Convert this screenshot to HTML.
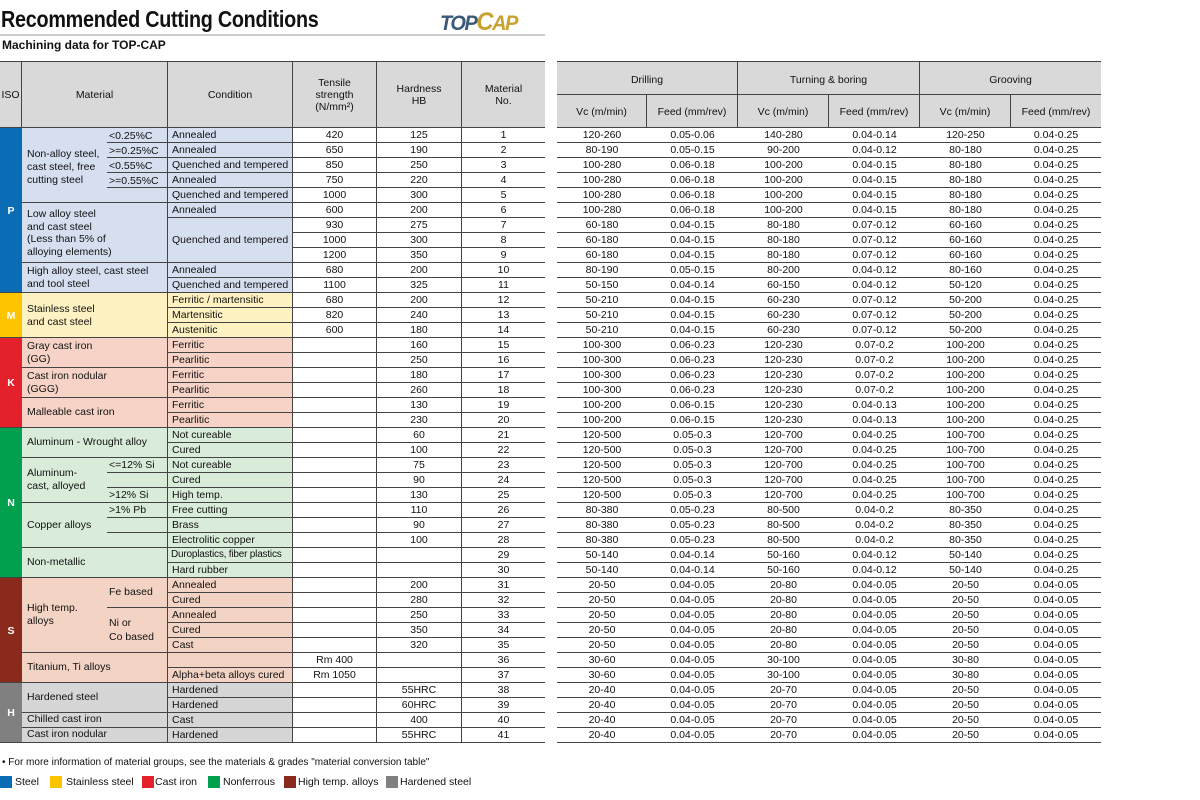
<!DOCTYPE html>
<html><head><meta charset="utf-8"><style>
*{margin:0;padding:0;box-sizing:border-box}
body{width:1200px;height:800px;background:#fff;font-family:"Liberation Sans",Arial,sans-serif;color:#111;position:relative;overflow:hidden;font-size:10.5px}
.a{position:absolute;white-space:nowrap}
table{border-collapse:separate;border-spacing:0;table-layout:fixed;position:absolute}
td{height:15px;border-bottom:1px solid #444;padding:0;line-height:14px;text-align:center;white-space:nowrap;overflow:hidden;font-size:10.5px}
#L td{border-right:1px solid #444}
#L td.c{text-align:left;padding-left:4px}
.P{background:#d5dff0}.M{background:#fff2c2}.K{background:#f6d3c6}.N{background:#d9ecd9}.S{background:#f3d4c4}.H{background:#d6d6d6}
.hd{position:absolute;background:#d9d9d9;border-top:1px solid #444;border-bottom:1px solid #444;}
.hc{position:absolute;display:flex;align-items:center;justify-content:center;text-align:center;font-size:10.5px;line-height:12px;border-right:1px solid #444}
.iso{position:absolute;left:0;width:22px;color:#fff;font-weight:bold;display:flex;align-items:center;justify-content:center;font-size:10.5px}
.mb{position:absolute;left:22px;width:146px;border-right:1px solid #444}
.ln{position:absolute;height:1px;background:#444}
.sq{position:absolute;top:776px;width:12px;height:12px}
</style></head><body>
<div class="a" style="left:1px;top:6px;font-size:23px;font-weight:bold;transform:scaleX(0.86);transform-origin:left top;letter-spacing:-0.3px">Recommended Cutting Conditions</div>
<div class="a" style="left:440px;top:8px;font-size:21px;font-weight:bold;font-style:italic;letter-spacing:-1.5px;transform:scaleX(0.95);transform-origin:left top"><span style="color:#3a5a78">TOP</span><span style="color:#c9a233;font-size:25px">C</span><span style="color:#c9a233">AP</span></div>
<div class="ln" style="left:0;top:34px;width:545px;height:2px;background:#ccc"></div>
<div class="a" style="left:2px;top:38px;font-size:12px;font-weight:bold">Machining data for TOP-CAP</div>

<div class="hd" style="left:0;top:61px;width:545px;height:67px"></div>
<div class="hc" style="left:0;top:62px;width:22px;height:66px">ISO</div>
<div class="hc" style="left:22px;top:62px;width:146px;height:66px">Material</div>
<div class="hc" style="left:168px;top:62px;width:125px;height:66px">Condition</div>
<div class="hc" style="left:293px;top:62px;width:84px;height:66px">Tensile<br>strength<br>(N/mm²)</div>
<div class="hc" style="left:377px;top:62px;width:85px;height:66px">Hardness<br>HB</div>
<div class="hc" style="left:462px;top:62px;width:83px;height:66px;border-right:0">Material<br>No.</div>

<div class="hd" style="left:557px;top:61px;width:544px;height:67px"></div>
<div class="hc" style="left:557px;top:62px;width:181px;height:33px;border-bottom:1px solid #444;padding-top:4px">Drilling</div>
<div class="hc" style="left:738px;top:62px;width:182px;height:33px;border-bottom:1px solid #444;padding-top:4px">Turning &amp; boring</div>
<div class="hc" style="left:920px;top:62px;width:181px;height:33px;border-bottom:1px solid #444;border-right:0;padding-top:4px">Grooving</div>
<div class="hc" style="left:557px;top:95px;width:90px;height:33px">Vc (m/min)</div>
<div class="hc" style="left:647px;top:95px;width:91px;height:33px">Feed (mm/rev)</div>
<div class="hc" style="left:738px;top:95px;width:91px;height:33px">Vc (m/min)</div>
<div class="hc" style="left:829px;top:95px;width:91px;height:33px">Feed (mm/rev)</div>
<div class="hc" style="left:920px;top:95px;width:91px;height:33px">Vc (m/min)</div>
<div class="hc" style="left:1011px;top:95px;width:90px;height:33px;border-right:0">Feed (mm/rev)</div>

<div class="iso" style="top:128px;height:165px;background:#0a6cb4">P</div>
<div class="iso" style="top:293px;height:45px;background:#ffc400">M</div>
<div class="iso" style="top:338px;height:90px;background:#e4202a">K</div>
<div class="iso" style="top:428px;height:150px;background:#00a04e">N</div>
<div class="iso" style="top:578px;height:105px;background:#8a2a1c">S</div>
<div class="iso" style="top:683px;height:60px;background:#808080">H</div>

<div class="mb P" style="top:128px;height:165px"></div>
<div class="mb M" style="top:293px;height:45px"></div>
<div class="mb K" style="top:338px;height:90px"></div>
<div class="mb N" style="top:428px;height:150px"></div>
<div class="mb S" style="top:578px;height:105px"></div>
<div class="mb H" style="top:683px;height:60px"></div>
<div class="ln" style="left:22px;top:202px;width:146px"></div>
<div class="ln" style="left:22px;top:262px;width:146px"></div>
<div class="ln" style="left:0;top:292px;width:168px"></div>
<div class="ln" style="left:0;top:337px;width:168px"></div>
<div class="ln" style="left:22px;top:367px;width:146px"></div>
<div class="ln" style="left:22px;top:397px;width:146px"></div>
<div class="ln" style="left:0;top:427px;width:168px"></div>
<div class="ln" style="left:22px;top:457px;width:146px"></div>
<div class="ln" style="left:22px;top:502px;width:146px"></div>
<div class="ln" style="left:22px;top:547px;width:146px"></div>
<div class="ln" style="left:0;top:577px;width:168px"></div>
<div class="ln" style="left:22px;top:652px;width:146px"></div>
<div class="ln" style="left:0;top:682px;width:168px"></div>
<div class="ln" style="left:22px;top:712px;width:146px"></div>
<div class="ln" style="left:22px;top:727px;width:146px"></div>
<div class="ln" style="left:0;top:742px;width:168px"></div>
<div class="ln" style="left:107px;top:142px;width:61px"></div>
<div class="ln" style="left:107px;top:157px;width:61px"></div>
<div class="ln" style="left:107px;top:172px;width:61px"></div>
<div class="ln" style="left:107px;top:187px;width:61px"></div>
<div class="ln" style="left:107px;top:472px;width:61px"></div>
<div class="ln" style="left:107px;top:487px;width:61px"></div>
<div class="ln" style="left:107px;top:517px;width:61px"></div>
<div class="ln" style="left:107px;top:532px;width:61px"></div>
<div class="ln" style="left:107px;top:607px;width:61px"></div>

<div class="a" style="left:27px;top:148px;line-height:13px">Non-alloy steel,<br>cast steel, free<br>cutting steel</div>
<div class="a" style="left:109px;top:129px;line-height:15px">&lt;0.25%C<br>&gt;=0.25%C<br>&lt;0.55%C<br>&gt;=0.55%C</div>
<div class="a" style="left:27px;top:208px;line-height:12.5px">Low alloy steel<br>and cast steel<br>(Less than 5% of<br>alloying elements)</div>
<div class="a" style="left:27px;top:265px;line-height:13px">High alloy steel, cast steel<br>and tool steel</div>
<div class="a" style="left:27px;top:303px;line-height:12.5px">Stainless steel<br>and cast steel</div>
<div class="a" style="left:27px;top:340px;line-height:13px">Gray cast iron<br>(GG)</div>
<div class="a" style="left:27px;top:370px;line-height:13px">Cast iron nodular<br>(GGG)</div>
<div class="a" style="left:27px;top:406px">Malleable cast iron</div>
<div class="a" style="left:27px;top:436px">Aluminum - Wrought alloy</div>
<div class="a" style="left:27px;top:467px;line-height:13px">Aluminum-<br>cast, alloyed</div>
<div class="a" style="left:109px;top:459px">&lt;=12% Si</div>
<div class="a" style="left:109px;top:489px">&gt;12% Si</div>
<div class="a" style="left:109px;top:504px">&gt;1% Pb</div>
<div class="a" style="left:27px;top:519px">Copper alloys</div>
<div class="a" style="left:27px;top:556px">Non-metallic</div>
<div class="a" style="left:27px;top:602px;line-height:13px">High temp.<br>alloys</div>
<div class="a" style="left:109px;top:586px">Fe based</div>
<div class="a" style="left:109px;top:616px;line-height:14px">Ni or<br>Co based</div>
<div class="a" style="left:27px;top:661px">Titanium, Ti alloys</div>
<div class="a" style="left:27px;top:691px">Hardened steel</div>
<div class="a" style="left:27px;top:713px">Chilled cast iron</div>
<div class="a" style="left:27px;top:728px">Cast iron nodular</div>

<table id="L" style="left:168px;top:128px;width:377px">
<colgroup><col style="width:125px"><col style="width:84px"><col style="width:85px"><col style="width:83px"></colgroup>
<tr><td class="c P">Annealed</td><td>420</td><td>125</td><td style="border-right:0">1</td></tr>
<tr><td class="c P">Annealed</td><td>650</td><td>190</td><td style="border-right:0">2</td></tr>
<tr><td class="c P">Quenched and tempered</td><td>850</td><td>250</td><td style="border-right:0">3</td></tr>
<tr><td class="c P">Annealed</td><td>750</td><td>220</td><td style="border-right:0">4</td></tr>
<tr><td class="c P">Quenched and tempered</td><td>1000</td><td>300</td><td style="border-right:0">5</td></tr>
<tr><td class="c P">Annealed</td><td>600</td><td>200</td><td style="border-right:0">6</td></tr>
<tr><td class="c P" rowspan="3" style="height:45px">Quenched and tempered</td><td>930</td><td>275</td><td style="border-right:0">7</td></tr>
<tr><td>1000</td><td>300</td><td style="border-right:0">8</td></tr>
<tr><td>1200</td><td>350</td><td style="border-right:0">9</td></tr>
<tr><td class="c P">Annealed</td><td>680</td><td>200</td><td style="border-right:0">10</td></tr>
<tr><td class="c P">Quenched and tempered</td><td>1100</td><td>325</td><td style="border-right:0">11</td></tr>
<tr><td class="c M">Ferritic / martensitic</td><td>680</td><td>200</td><td style="border-right:0">12</td></tr>
<tr><td class="c M">Martensitic</td><td>820</td><td>240</td><td style="border-right:0">13</td></tr>
<tr><td class="c M">Austenitic</td><td>600</td><td>180</td><td style="border-right:0">14</td></tr>
<tr><td class="c K">Ferritic</td><td></td><td>160</td><td style="border-right:0">15</td></tr>
<tr><td class="c K">Pearlitic</td><td></td><td>250</td><td style="border-right:0">16</td></tr>
<tr><td class="c K">Ferritic</td><td></td><td>180</td><td style="border-right:0">17</td></tr>
<tr><td class="c K">Pearlitic</td><td></td><td>260</td><td style="border-right:0">18</td></tr>
<tr><td class="c K">Ferritic</td><td></td><td>130</td><td style="border-right:0">19</td></tr>
<tr><td class="c K">Pearlitic</td><td></td><td>230</td><td style="border-right:0">20</td></tr>
<tr><td class="c N">Not cureable</td><td></td><td>60</td><td style="border-right:0">21</td></tr>
<tr><td class="c N">Cured</td><td></td><td>100</td><td style="border-right:0">22</td></tr>
<tr><td class="c N">Not cureable</td><td></td><td>75</td><td style="border-right:0">23</td></tr>
<tr><td class="c N">Cured</td><td></td><td>90</td><td style="border-right:0">24</td></tr>
<tr><td class="c N">High temp.</td><td></td><td>130</td><td style="border-right:0">25</td></tr>
<tr><td class="c N">Free cutting</td><td></td><td>110</td><td style="border-right:0">26</td></tr>
<tr><td class="c N">Brass</td><td></td><td>90</td><td style="border-right:0">27</td></tr>
<tr><td class="c N">Electrolitic copper</td><td></td><td>100</td><td style="border-right:0">28</td></tr>
<tr><td class="c N" style="font-size:10px;padding-left:3px;letter-spacing:-0.2px">Duroplastics, fiber plastics</td><td></td><td></td><td style="border-right:0">29</td></tr>
<tr><td class="c N">Hard rubber</td><td></td><td></td><td style="border-right:0">30</td></tr>
<tr><td class="c S">Annealed</td><td></td><td>200</td><td style="border-right:0">31</td></tr>
<tr><td class="c S">Cured</td><td></td><td>280</td><td style="border-right:0">32</td></tr>
<tr><td class="c S">Annealed</td><td></td><td>250</td><td style="border-right:0">33</td></tr>
<tr><td class="c S">Cured</td><td></td><td>350</td><td style="border-right:0">34</td></tr>
<tr><td class="c S">Cast</td><td></td><td>320</td><td style="border-right:0">35</td></tr>
<tr><td class="c S"></td><td>Rm 400</td><td></td><td style="border-right:0">36</td></tr>
<tr><td class="c S">Alpha+beta alloys cured</td><td>Rm 1050</td><td></td><td style="border-right:0">37</td></tr>
<tr><td class="c H">Hardened</td><td></td><td>55HRC</td><td style="border-right:0">38</td></tr>
<tr><td class="c H">Hardened</td><td></td><td>60HRC</td><td style="border-right:0">39</td></tr>
<tr><td class="c H">Cast</td><td></td><td>400</td><td style="border-right:0">40</td></tr>
<tr><td class="c H">Hardened</td><td></td><td>55HRC</td><td style="border-right:0">41</td></tr>
</table>

<table style="left:557px;top:128px;width:544px">
<colgroup><col style="width:90px"><col style="width:91px"><col style="width:91px"><col style="width:91px"><col style="width:91px"><col style="width:90px"></colgroup>
<tr><td>120-260</td><td>0.05-0.06</td><td>140-280</td><td>0.04-0.14</td><td>120-250</td><td>0.04-0.25</td></tr>
<tr><td>80-190</td><td>0.05-0.15</td><td>90-200</td><td>0.04-0.12</td><td>80-180</td><td>0.04-0.25</td></tr>
<tr><td>100-280</td><td>0.06-0.18</td><td>100-200</td><td>0.04-0.15</td><td>80-180</td><td>0.04-0.25</td></tr>
<tr><td>100-280</td><td>0.06-0.18</td><td>100-200</td><td>0.04-0.15</td><td>80-180</td><td>0.04-0.25</td></tr>
<tr><td>100-280</td><td>0.06-0.18</td><td>100-200</td><td>0.04-0.15</td><td>80-180</td><td>0.04-0.25</td></tr>
<tr><td>100-280</td><td>0.06-0.18</td><td>100-200</td><td>0.04-0.15</td><td>80-180</td><td>0.04-0.25</td></tr>
<tr><td>60-180</td><td>0.04-0.15</td><td>80-180</td><td>0.07-0.12</td><td>60-160</td><td>0.04-0.25</td></tr>
<tr><td>60-180</td><td>0.04-0.15</td><td>80-180</td><td>0.07-0.12</td><td>60-160</td><td>0.04-0.25</td></tr>
<tr><td>60-180</td><td>0.04-0.15</td><td>80-180</td><td>0.07-0.12</td><td>60-160</td><td>0.04-0.25</td></tr>
<tr><td>80-190</td><td>0.05-0.15</td><td>80-200</td><td>0.04-0.12</td><td>80-160</td><td>0.04-0.25</td></tr>
<tr><td>50-150</td><td>0.04-0.14</td><td>60-150</td><td>0.04-0.12</td><td>50-120</td><td>0.04-0.25</td></tr>
<tr><td>50-210</td><td>0.04-0.15</td><td>60-230</td><td>0.07-0.12</td><td>50-200</td><td>0.04-0.25</td></tr>
<tr><td>50-210</td><td>0.04-0.15</td><td>60-230</td><td>0.07-0.12</td><td>50-200</td><td>0.04-0.25</td></tr>
<tr><td>50-210</td><td>0.04-0.15</td><td>60-230</td><td>0.07-0.12</td><td>50-200</td><td>0.04-0.25</td></tr>
<tr><td>100-300</td><td>0.06-0.23</td><td>120-230</td><td>0.07-0.2</td><td>100-200</td><td>0.04-0.25</td></tr>
<tr><td>100-300</td><td>0.06-0.23</td><td>120-230</td><td>0.07-0.2</td><td>100-200</td><td>0.04-0.25</td></tr>
<tr><td>100-300</td><td>0.06-0.23</td><td>120-230</td><td>0.07-0.2</td><td>100-200</td><td>0.04-0.25</td></tr>
<tr><td>100-300</td><td>0.06-0.23</td><td>120-230</td><td>0.07-0.2</td><td>100-200</td><td>0.04-0.25</td></tr>
<tr><td>100-200</td><td>0.06-0.15</td><td>120-230</td><td>0.04-0.13</td><td>100-200</td><td>0.04-0.25</td></tr>
<tr><td>100-200</td><td>0.06-0.15</td><td>120-230</td><td>0.04-0.13</td><td>100-200</td><td>0.04-0.25</td></tr>
<tr><td>120-500</td><td>0.05-0.3</td><td>120-700</td><td>0.04-0.25</td><td>100-700</td><td>0.04-0.25</td></tr>
<tr><td>120-500</td><td>0.05-0.3</td><td>120-700</td><td>0.04-0.25</td><td>100-700</td><td>0.04-0.25</td></tr>
<tr><td>120-500</td><td>0.05-0.3</td><td>120-700</td><td>0.04-0.25</td><td>100-700</td><td>0.04-0.25</td></tr>
<tr><td>120-500</td><td>0.05-0.3</td><td>120-700</td><td>0.04-0.25</td><td>100-700</td><td>0.04-0.25</td></tr>
<tr><td>120-500</td><td>0.05-0.3</td><td>120-700</td><td>0.04-0.25</td><td>100-700</td><td>0.04-0.25</td></tr>
<tr><td>80-380</td><td>0.05-0.23</td><td>80-500</td><td>0.04-0.2</td><td>80-350</td><td>0.04-0.25</td></tr>
<tr><td>80-380</td><td>0.05-0.23</td><td>80-500</td><td>0.04-0.2</td><td>80-350</td><td>0.04-0.25</td></tr>
<tr><td>80-380</td><td>0.05-0.23</td><td>80-500</td><td>0.04-0.2</td><td>80-350</td><td>0.04-0.25</td></tr>
<tr><td>50-140</td><td>0.04-0.14</td><td>50-160</td><td>0.04-0.12</td><td>50-140</td><td>0.04-0.25</td></tr>
<tr><td>50-140</td><td>0.04-0.14</td><td>50-160</td><td>0.04-0.12</td><td>50-140</td><td>0.04-0.25</td></tr>
<tr><td>20-50</td><td>0.04-0.05</td><td>20-80</td><td>0.04-0.05</td><td>20-50</td><td>0.04-0.05</td></tr>
<tr><td>20-50</td><td>0.04-0.05</td><td>20-80</td><td>0.04-0.05</td><td>20-50</td><td>0.04-0.05</td></tr>
<tr><td>20-50</td><td>0.04-0.05</td><td>20-80</td><td>0.04-0.05</td><td>20-50</td><td>0.04-0.05</td></tr>
<tr><td>20-50</td><td>0.04-0.05</td><td>20-80</td><td>0.04-0.05</td><td>20-50</td><td>0.04-0.05</td></tr>
<tr><td>20-50</td><td>0.04-0.05</td><td>20-80</td><td>0.04-0.05</td><td>20-50</td><td>0.04-0.05</td></tr>
<tr><td>30-60</td><td>0.04-0.05</td><td>30-100</td><td>0.04-0.05</td><td>30-80</td><td>0.04-0.05</td></tr>
<tr><td>30-60</td><td>0.04-0.05</td><td>30-100</td><td>0.04-0.05</td><td>30-80</td><td>0.04-0.05</td></tr>
<tr><td>20-40</td><td>0.04-0.05</td><td>20-70</td><td>0.04-0.05</td><td>20-50</td><td>0.04-0.05</td></tr>
<tr><td>20-40</td><td>0.04-0.05</td><td>20-70</td><td>0.04-0.05</td><td>20-50</td><td>0.04-0.05</td></tr>
<tr><td>20-40</td><td>0.04-0.05</td><td>20-70</td><td>0.04-0.05</td><td>20-50</td><td>0.04-0.05</td></tr>
<tr><td>20-40</td><td>0.04-0.05</td><td>20-70</td><td>0.04-0.05</td><td>20-50</td><td>0.04-0.05</td></tr>
</table>

<div class="a" style="left:2px;top:757px;font-size:10px">• For more information of material groups, see the materials &amp; grades "material conversion table"</div>
<div class="sq" style="left:0px;background:#0a6cb4"></div><div class="a" style="left:15px;top:776px;font-size:10.5px">Steel</div>
<div class="sq" style="left:50px;background:#ffc400"></div><div class="a" style="left:66px;top:776px;font-size:10.5px">Stainless steel</div>
<div class="sq" style="left:142px;background:#e4202a"></div><div class="a" style="left:155px;top:776px;font-size:10.5px">Cast iron</div>
<div class="sq" style="left:208px;background:#00a04e"></div><div class="a" style="left:223px;top:776px;font-size:10.5px">Nonferrous</div>
<div class="sq" style="left:284px;background:#8a2a1c"></div><div class="a" style="left:298px;top:776px;font-size:10.5px">High temp. alloys</div>
<div class="sq" style="left:386px;background:#808080"></div><div class="a" style="left:400px;top:776px;font-size:10.5px">Hardened steel</div>
</body></html>
